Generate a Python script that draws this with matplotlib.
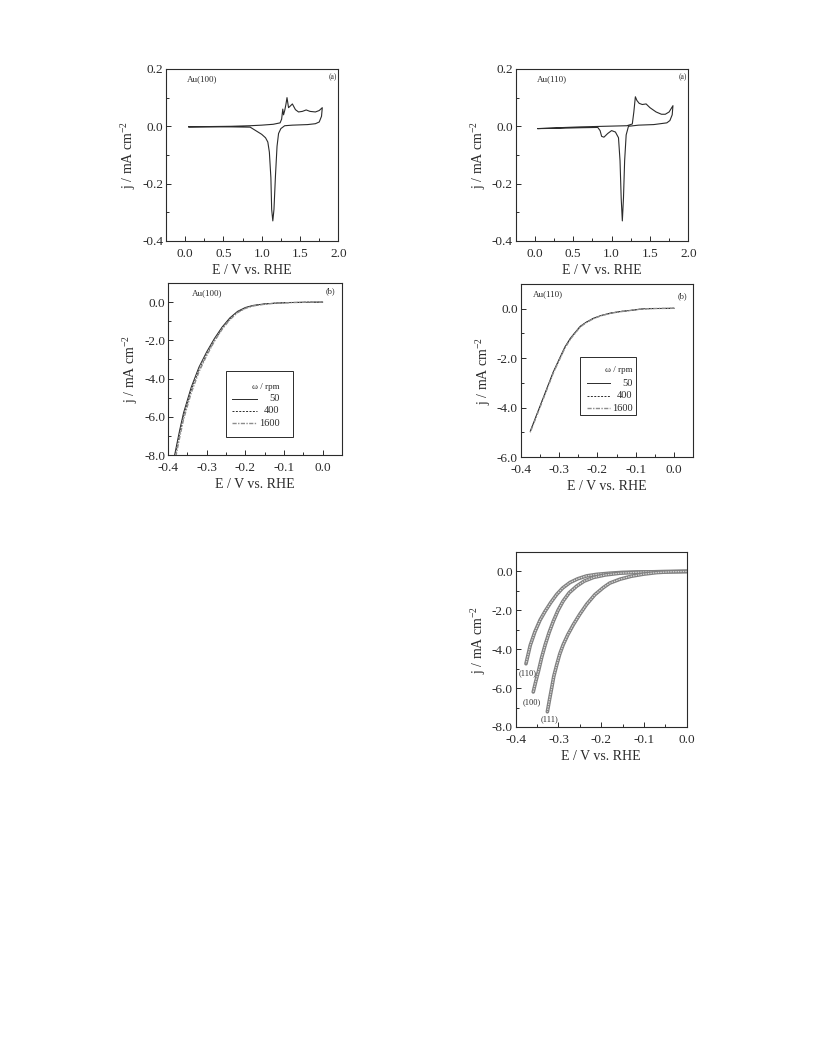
import numpy as np
import matplotlib
matplotlib.use('Agg')
import matplotlib.pyplot as plt
from matplotlib.ticker import MultipleLocator, FormatStrFormatter
from matplotlib.patches import Rectangle

plt.rcParams['font.family'] = ['Liberation Serif', 'DejaVu Serif']
plt.rcParams['mathtext.fontset'] = 'custom'
plt.rcParams['mathtext.rm'] = 'Liberation Serif'
plt.rcParams['axes.unicode_minus'] = False

# --- (a) cyclic voltammograms, closed loops (anodic then cathodic) ---
cv100_E = [0.05, 0.3, 0.6, 0.85, 1.0, 1.15, 1.24, 1.26, 1.275, 1.285, 1.3, 1.315, 1.33, 1.35,
           1.37, 1.40, 1.44, 1.48, 1.53, 1.58, 1.63, 1.70, 1.75, 1.79,
           1.78, 1.75, 1.70, 1.60, 1.40, 1.30, 1.25, 1.22, 1.20, 1.18, 1.16, 1.145, 1.13, 1.12,
           1.10, 1.08, 1.05, 1.0, 0.94, 0.88, 0.85, 0.6, 0.3, 0.05]
cv100_j = [-0.002, -0.001, 0.0, 0.002, 0.004, 0.007, 0.012, 0.025, 0.06, 0.04, 0.055, 0.075, 0.10, 0.065,
           0.07, 0.078, 0.058, 0.05, 0.052, 0.057, 0.052, 0.05, 0.055, 0.065,
           0.035, 0.015, 0.009, 0.006, 0.004, 0.002, -0.008, -0.025, -0.07, -0.17, -0.29, -0.33, -0.29, -0.18,
           -0.09, -0.055, -0.04, -0.028, -0.018, -0.008, -0.003, -0.002, -0.002, -0.002]

cv110_E = [0.04, 0.3, 0.6, 0.9, 1.2, 1.27, 1.29, 1.31, 1.33, 1.36, 1.40, 1.45, 1.50, 1.58, 1.65,
           1.70, 1.75, 1.80,
           1.79, 1.76, 1.72, 1.55, 1.35, 1.22, 1.19, 1.17, 1.155, 1.14, 1.125, 1.11, 1.09, 1.05,
           1.0, 0.95, 0.9, 0.87, 0.85, 0.82, 0.6, 0.3, 0.04]
cv110_j = [-0.008, -0.005, -0.002, 0.0, 0.002, 0.008, 0.05, 0.103, 0.09, 0.08, 0.076, 0.078, 0.065, 0.05, 0.042,
           0.042, 0.05, 0.072,
           0.04, 0.02, 0.012, 0.006, 0.004, 0.0, -0.03, -0.12, -0.25, -0.33, -0.25, -0.12, -0.04, -0.02,
           -0.015, -0.025, -0.038, -0.035, -0.015, -0.004, -0.005, -0.007, -0.008]

# --- (b) polarization curves at three rotation rates ---
rpm_labels = ['50', '400', '1600']

lsv100_E = [0.0, -0.04, -0.08, -0.12, -0.15, -0.18, -0.20, -0.22, -0.24, -0.26, -0.28,
            -0.30, -0.32, -0.34, -0.36, -0.37, -0.385]
lsv100_j50 = [0.0, -0.005, -0.02, -0.05, -0.09, -0.17, -0.28, -0.48, -0.82, -1.3, -1.9,
              -2.6, -3.4, -4.45, -5.8, -6.7, -8.2]
lsv100_j400 = [0.0, -0.005, -0.02, -0.05, -0.10, -0.19, -0.31, -0.52, -0.88, -1.38, -2.0,
               -2.72, -3.55, -4.6, -6.0, -6.9, -8.4]
lsv100_j1600 = [0.0, -0.006, -0.022, -0.055, -0.11, -0.2, -0.33, -0.55, -0.92, -1.42, -2.05,
                -2.8, -3.65, -4.75, -6.15, -7.1, -8.6]

lsv110_E = [0.0, -0.05, -0.08, -0.11, -0.14, -0.165, -0.19, -0.21, -0.23, -0.245, -0.27,
            -0.285, -0.30, -0.315, -0.325, -0.34, -0.35, -0.36, -0.375]
lsv110_j50 = [0.02, 0.01, 0.0, -0.06, -0.11, -0.17, -0.27, -0.38, -0.55, -0.71, -1.18,
              -1.55, -2.05, -2.55, -2.95, -3.55, -3.95, -4.35, -4.95]
lsv110_j400 = [0.02, 0.01, 0.0, -0.06, -0.11, -0.18, -0.28, -0.39, -0.56, -0.73, -1.2,
               -1.58, -2.08, -2.58, -2.98, -3.58, -3.98, -4.38, -4.98]
lsv110_j1600 = [0.02, 0.01, 0.0, -0.06, -0.12, -0.18, -0.28, -0.40, -0.57, -0.74, -1.22,
                -1.6, -2.1, -2.6, -3.0, -3.6, -4.0, -4.4, -5.0]

# --- comparison of the three faces ---
face_labels = ['(110)', '(100)', '(111)']
cmp110_E = [0.0, -0.04, -0.08, -0.117, -0.15, -0.179, -0.21, -0.234, -0.255, -0.273, -0.29,
            -0.304, -0.318, -0.331, -0.343, -0.355, -0.366, -0.376]
cmp110_j = [0.0, -0.01, -0.02, -0.03, -0.05, -0.09, -0.15, -0.23, -0.38, -0.57, -0.85,
            -1.18, -1.6, -2.04, -2.5, -3.1, -3.8, -4.75]
cmp100_E = [0.0, -0.05, -0.1, -0.156, -0.19, -0.218, -0.24, -0.257, -0.275, -0.289, -0.301,
            -0.312, -0.322, -0.331, -0.339, -0.347, -0.353, -0.359]
cmp100_j = [0.0, -0.01, -0.03, -0.09, -0.18, -0.31, -0.5, -0.75, -1.1, -1.52, -2.0,
            -2.56, -3.15, -3.77, -4.4, -5.15, -5.65, -6.2]
cmp111_E = [0.0, -0.039, -0.07, -0.101, -0.13, -0.156, -0.18, -0.195, -0.215, -0.234, -0.25,
            -0.265, -0.278, -0.289, -0.297, -0.304, -0.311, -0.316, -0.321, -0.326]
cmp111_j = [0.0, -0.02, -0.06, -0.14, -0.25, -0.40, -0.6, -0.83, -1.2, -1.69, -2.2,
            -2.73, -3.25, -3.77, -4.25, -4.8, -5.4, -6.01, -6.6, -7.22]
face_label_pos = [(-0.372, -5.25), (-0.362, -6.75), (-0.321, -7.6)]

INK = '#2b2b2b'
YLAB = r'j / mA cm$^{\mathrm{-2}}$'
XLAB = 'E / V vs. RHE'


def style_axes(ax, xmaj, xmin, ymaj, ymin):
    ax.xaxis.set_major_locator(MultipleLocator(xmaj))
    ax.xaxis.set_minor_locator(MultipleLocator(xmin))
    ax.yaxis.set_major_locator(MultipleLocator(ymaj))
    ax.yaxis.set_minor_locator(MultipleLocator(ymin))
    ax.xaxis.set_major_formatter(FormatStrFormatter('%.1f'))
    ax.yaxis.set_major_formatter(FormatStrFormatter('%.1f'))
    ax.tick_params(which='both', direction='in', top=False, right=False,
                   labelsize=9.5, colors=INK, width=0.7)
    ax.tick_params(which='major', length=3.5)
    ax.tick_params(axis='x', which='major', pad=5)
    ax.tick_params(axis='y', which='major', pad=2)
    ax.tick_params(which='minor', length=2)
    for s in ax.spines.values():
        s.set_linewidth(0.8)
        s.set_color(INK)
    ax.set_xlabel(XLAB, fontsize=10, color=INK, labelpad=3)
    ax.set_ylabel(YLAB, fontsize=10, color=INK, labelpad=3)


def rpm_legend(ax, box, title_y, rows_y, line_x, text_x, styles):
    x0, y0, x1, y1 = box
    ax.add_patch(Rectangle((x0, y0), x1 - x0, y1 - y0, transform=ax.transAxes,
                           fill=False, lw=0.7, ec=INK))
    ax.text(text_x, title_y, '\u03c9 / rpm', transform=ax.transAxes,
            ha='right', va='center', fontsize=6.5, color=INK)
    for lab, ry, st in zip(rpm_labels, rows_y, styles):
        ax.plot(line_x, [ry, ry], transform=ax.transAxes, **st)
        ax.text(text_x, ry, lab, transform=ax.transAxes, ha='right', va='center',
                fontsize=7.5, color=INK)


fig = plt.figure(figsize=(8.16, 10.56), dpi=100)

# top row: CVs
for left, E, j, name in [(0.2032, cv100_E, cv100_j, 'Au(100)'),
                         (0.6320, cv110_E, cv110_j, 'Au(110)')]:
    ax = fig.add_axes([left, 0.7718, 0.2115, 0.1629])
    ax.plot(E, j, color=INK, lw=0.8)
    ax.set_xlim(-0.25, 2.0)
    ax.set_ylim(-0.4, 0.2)
    style_axes(ax, 0.5, 0.25, 0.2, 0.1)
    ax.text(0.12, 0.94, name, transform=ax.transAxes, fontsize=6.5, va='center', color=INK)
    ax.text(0.97, 0.955, '(a)', transform=ax.transAxes, fontsize=5.5, ha='center',
            va='center', color=INK)

styles = [dict(color=INK, lw=0.7, ls='-'),
          dict(color=INK, lw=0.7, ls=(0, (2, 1.5))),
          dict(color='0.55', lw=1.0, ls=(0, (3, 1, 1, 1)))]

# middle left: Au(100) LSV
ax = fig.add_axes([0.2059, 0.5691, 0.2132, 0.1629])
for jj, st in zip([lsv100_j50, lsv100_j400, lsv100_j1600], styles):
    ax.plot(lsv100_E, jj, **st)
ax.set_xlim(-0.4, 0.05)
ax.set_ylim(-8.0, 1.0)
style_axes(ax, 0.1, 0.05, 2.0, 1.0)
ax.text(0.136, 0.94, 'Au(100)', transform=ax.transAxes, fontsize=6.5, va='center', color=INK)
ax.text(0.936, 0.95, '(b)', transform=ax.transAxes, fontsize=6, ha='center', va='center', color=INK)
rpm_legend(ax, (0.333, 0.106, 0.717, 0.49), 0.397, [0.326, 0.258, 0.184],
           [0.366, 0.51], 0.64, styles)

# middle right: Au(110) LSV
ax = fig.add_axes([0.6381, 0.5672, 0.2115, 0.1638])
for jj, st in zip([lsv110_j50, lsv110_j400, lsv110_j1600], styles):
    ax.plot(lsv110_E, jj, **st)
ax.set_xlim(-0.4, 0.05)
ax.set_ylim(-6.0, 1.0)
style_axes(ax, 0.1, 0.05, 2.0, 1.0)
ax.text(0.073, 0.94, 'Au(110)', transform=ax.transAxes, fontsize=6.5, va='center', color=INK)
ax.text(0.94, 0.93, '(b)', transform=ax.transAxes, fontsize=6, ha='center', va='center', color=INK)
rpm_legend(ax, (0.344, 0.243, 0.668, 0.58), 0.503, [0.426, 0.353, 0.281],
           [0.382, 0.517], 0.647, styles)

# bottom right: comparison of faces
ax = fig.add_axes([0.6320, 0.3116, 0.2096, 0.1657])
for E, j in [(cmp110_E, cmp110_j), (cmp100_E, cmp100_j), (cmp111_E, cmp111_j)]:
    ax.plot(E, j, color='0.5', lw=2.6, solid_capstyle='round')
    ax.plot(E, j, color='white', lw=0.9, alpha=0.7, dashes=(1.2, 0.8))
for lab, (x, y) in zip(face_labels, face_label_pos):
    ax.text(x, y, lab, fontsize=6, ha='center', va='center', color=INK)
ax.set_xlim(-0.4, 0.0)
ax.set_ylim(-8.0, 1.0)
style_axes(ax, 0.1, 0.05, 2.0, 1.0)

fig.savefig('out.png', dpi=100)
